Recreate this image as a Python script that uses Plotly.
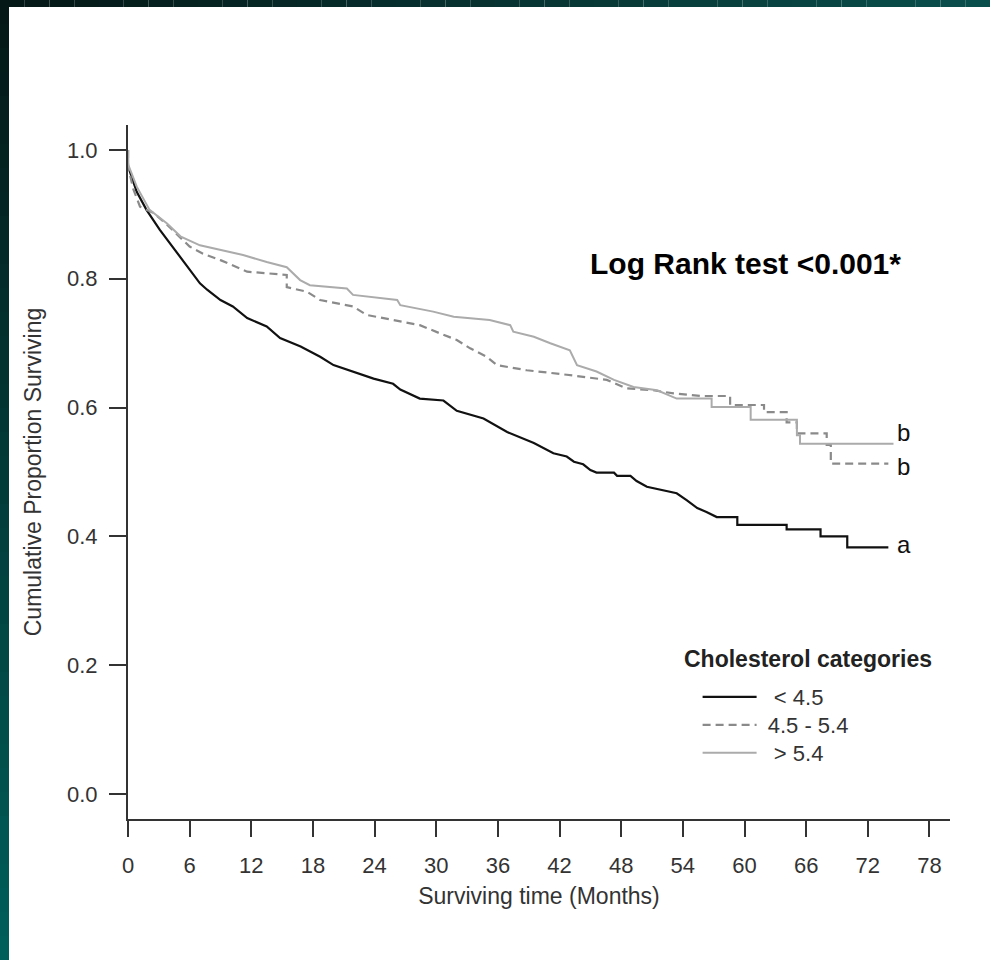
import plotly.graph_objects as go

# ---------------- data ----------------
months_lt45 = [0, 0, 0.85, 1.8, 3.1, 4.1, 5.1, 6.0, 7.0, 7.7, 9.0, 10.2, 11.6, 13.5, 14.8, 16.8,
               18.7, 20.0, 21.9, 23.9, 25.8, 26.5, 28.4, 30.7, 32.0, 34.6, 36.9, 39.5, 41.4, 42.7,
               43.4, 44.3, 45.0, 45.6, 47.3, 47.6, 48.9, 49.5, 50.5, 52.1, 53.4, 54.4, 55.4, 56.3,
               57.3, 59.3, 59.3, 64.1, 64.1, 67.4, 67.4, 70.0, 70.0, 74.0]
surv_lt45 = [1.0, 0.975, 0.935, 0.907, 0.876, 0.855, 0.834, 0.814, 0.793, 0.783, 0.767, 0.757, 0.739,
             0.726, 0.708, 0.695, 0.679, 0.666, 0.656, 0.645, 0.637, 0.628, 0.614, 0.611, 0.595,
             0.583, 0.562, 0.545, 0.529, 0.524, 0.516, 0.512, 0.503, 0.499, 0.499, 0.494, 0.494,
             0.486, 0.477, 0.472, 0.467, 0.456, 0.444, 0.438, 0.430, 0.430, 0.418, 0.418, 0.411,
             0.411, 0.400, 0.400, 0.383, 0.383]

months_45_54 = [0, 0, 0.5, 1.17, 2.5, 3.8, 4.7, 6.0, 7.3, 9.0, 11.6, 14.8, 15.45, 15.45, 17.4, 18.7,
                21.9, 23.2, 25.8, 28.4, 30.4, 32.0, 33.3, 34.9, 35.9, 38.8, 42.7, 46.6, 48.5, 51.1,
                53.1, 55.7, 58.6, 58.6, 61.9, 61.9, 64.1, 64.1, 65.1, 65.1, 68.0, 68.0, 68.4, 68.4,
                74.0]
surv_45_54 = [1.0, 0.975, 0.940, 0.912, 0.902, 0.884, 0.870, 0.850, 0.839, 0.829, 0.811, 0.806,
              0.806, 0.787, 0.780, 0.767, 0.757, 0.744, 0.736, 0.728, 0.715, 0.705, 0.692, 0.679,
              0.666, 0.658, 0.651, 0.643, 0.630, 0.627, 0.622, 0.618, 0.618, 0.604, 0.604, 0.593,
              0.593, 0.577, 0.577, 0.560, 0.560, 0.542, 0.542, 0.513, 0.513]

months_gt54 = [0, 0, 0.85, 2.1, 3.8, 5.1, 7.0, 9.0, 11.2, 13.5, 15.45, 16.75, 17.7, 21.3, 21.9, 26.2,
               26.5, 29.7, 31.7, 35.2, 37.2, 37.5, 39.5, 41.1, 43.0, 43.7, 45.6, 47.3, 49.2, 51.5,
               53.4, 56.8, 56.8, 60.6, 60.6, 65.1, 65.1, 65.4, 65.4, 74.5]
surv_gt54 = [1.0, 0.978, 0.943, 0.907, 0.886, 0.866, 0.852, 0.845, 0.837, 0.826, 0.818, 0.798, 0.790,
             0.785, 0.775, 0.767, 0.759, 0.749, 0.741, 0.736, 0.728, 0.718, 0.710, 0.700, 0.689,
             0.666, 0.656, 0.643, 0.632, 0.627, 0.614, 0.614, 0.601, 0.601, 0.581, 0.581, 0.557,
             0.557, 0.544, 0.544]

group_names = ["< 4.5", "4.5 - 5.4", "> 5.4"]
end_labels = ["a", "b", "b"]
end_label_values = [0.387, 0.509, 0.562]
x_ticks = list(range(0, 79, 6))
y_ticks = [0.0, 0.2, 0.4, 0.6, 0.8, 1.0]

# ---------------- layout constants ----------------
W, H = 990, 960
ML, MR, MT, MB = 128, 40, 125, 141
FONT = "Arial, 'Liberation Sans', sans-serif"
TXT = "#333333"
NB = "\u00a0"


def px_x(p):
    return (p - ML) / (W - ML - MR)


def px_y(p):
    return (H - MB - p) / (H - MT - MB)


fig = go.Figure()
fig.add_trace(go.Scatter(x=months_lt45, y=surv_lt45, mode="lines", name=NB * 2 + group_names[0],
                         legend="legend", line=dict(color="#111111", width=2.2)))
fig.add_trace(go.Scatter(x=months_45_54, y=surv_45_54, mode="lines", name=NB + group_names[1],
                         legend="legend2", line=dict(color="#8a8a8a", width=2.2, dash="8px,5px")))
fig.add_trace(go.Scatter(x=months_gt54, y=surv_gt54, mode="lines", name=NB * 2 + group_names[2],
                         legend="legend3", line=dict(color="#ababab", width=2)))

# end-of-curve letters
for lab, val in zip(end_labels, end_label_values):
    fig.add_annotation(x=74.6, y=val, text=lab, showarrow=False, xanchor="left", yanchor="middle",
                       font=dict(family=FONT, size=24, color="#111111"))

fig.add_annotation(x=44.8, y=0.824, text="<b>Log Rank test &lt;0.001*</b>", showarrow=False,
                   xanchor="left", yanchor="middle",
                   font=dict(family=FONT, size=30, color="#000000"))

# legend heading
fig.add_annotation(xref="paper", yref="paper", x=px_x(682), y=px_y(659), xanchor="left",
                   yanchor="middle", showarrow=False, text="<b>Cholesterol categories</b>",
                   font=dict(family=FONT, size=23, color="#222222"))

# decorative dark-teal frame (left and top edges) with stepped gradient
def mix(c1, c2, t):
    a = [int(c1[i:i + 2], 16) for i in (1, 3, 5)]
    b = [int(c2[i:i + 2], 16) for i in (1, 3, 5)]
    return "#%02x%02x%02x" % tuple(round(a[k] + (b[k] - a[k]) * t) for k in range(3))


shapes = []
N = 40
for i in range(N):
    y0, y1 = H * i / N, H * (i + 1) / N
    shapes.append(dict(type="rect", xref="paper", yref="paper", x0=px_x(0), x1=px_x(9),
                       y0=px_y(y1), y1=px_y(y0), line=dict(width=0),
                       fillcolor=mix("#041716", "#005f5b", (i + 0.5) / N), layer="below"))
for i in range(N):
    x0, x1 = W * i / N, W * (i + 1) / N
    shapes.append(dict(type="rect", xref="paper", yref="paper", x0=px_x(x0), x1=px_x(x1),
                       y0=px_y(7), y1=px_y(0), line=dict(width=0),
                       fillcolor=mix("#041716", "#0a4f4c", (i + 0.5) / N), layer="below"))


def legend_at(row_center):
    return dict(
        x=px_x(697.6), y=px_y(row_center - 21), xanchor="left", yanchor="top",
        bgcolor="rgba(0,0,0,0)", borderwidth=0,
        font=dict(family=FONT, size=22, color=TXT),
        itemwidth=54,
    )


fig.update_layout(
    width=W, height=H,
    margin=dict(l=ML, r=MR, t=MT, b=MB, pad=0),
    paper_bgcolor="white", plot_bgcolor="white",
    shapes=shapes,
    showlegend=True,
    legend=legend_at(697),
    legend2=legend_at(725),
    legend3=legend_at(753),
    xaxis=dict(
        range=[0, 80], tickvals=x_ticks, ticktext=[str(v) for v in x_ticks],
        showline=True, linecolor="#333333", linewidth=2,
        ticks="outside", ticklen=16, tickwidth=2, tickcolor="#333333",
        showgrid=False, zeroline=False, ticklabelstandoff=10,
        tickfont=dict(family=FONT, size=22, color=TXT),
        title=dict(text="Surviving time (Months)", standoff=10,
                   font=dict(family=FONT, size=23, color=TXT)),
    ),
    yaxis=dict(
        range=[-0.0388, 1.0388], tickvals=y_ticks, tickformat=".1f",
        showline=True, linecolor="#333333", linewidth=2,
        ticks="outside", ticklen=17, tickwidth=2, tickcolor="#333333",
        showgrid=False, zeroline=False, ticklabelstandoff=7,
        tickfont=dict(family=FONT, size=22, color=TXT),
        title=dict(text="Cumulative Proportion Surviving", standoff=19,
                   font=dict(family=FONT, size=23, color=TXT)),
    ),
)

fig.write_html("out.html", config={"displayModeBar": False},
               post_script="document.body.style.margin='0';document.body.style.overflow='hidden';")
